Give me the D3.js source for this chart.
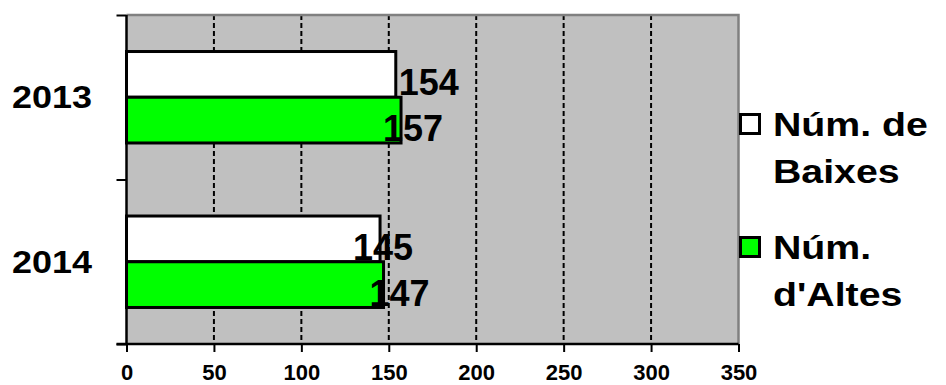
<!DOCTYPE html>
<html>
<head>
<meta charset="utf-8">
<script src="https://cdn.jsdelivr.net/npm/d3@7/dist/d3.min.js"></script>
<style>
  html, body { margin: 0; padding: 0; background: #fff; }
  svg { display: block; font-family: "Liberation Sans", Arial, sans-serif; font-weight: bold; }
</style>
</head>
<body>
<svg id="chart" width="946" height="385"></svg>
<script>
// Registered entries and exits per year
const categories = ["2013", "2014"];
const seriesKeys = ["baixes", "altes"];
const baixes = [154, 145];
const altes = [157, 147];
const legendLines = [["Núm. de", "Baixes"], ["Núm.", "d'Altes"]];
const xTicks = [0, 50, 100, 150, 200, 250, 300, 350];

const colors = { baixes: "#FFFFFF", altes: "#00FF00" };
const values = { baixes, altes };
// small horizontal nudges for the value labels
const labelNudge = { baixes: [3, -27], altes: [-18, -14] };

const svg = d3.select("#chart");
const plot = { left: 126.5, right: 738.5, top: 15, bottom: 344 };

const x = d3.scaleLinear().domain([0, 350]).range([plot.left, plot.right]);
const y0 = d3.scaleBand().domain(categories).range([plot.top, plot.bottom])
  .paddingInner(0.444).paddingOuter(0.222);
const y1 = d3.scaleBand().domain(seriesKeys).range([0, y0.bandwidth()]);
const yEdge = d3.scaleLinear().domain([0, categories.length]).range([plot.top, plot.bottom]);

// plot background
svg.append("rect")
  .attr("x", plot.left).attr("y", plot.top)
  .attr("width", plot.right - plot.left).attr("height", plot.bottom - plot.top)
  .attr("fill", "#C0C0C0");

// dashed gridlines
svg.append("g").selectAll("line")
  .data(xTicks.filter(d => d > 0 && d < 350))
  .join("line")
  .attr("x1", d => x(d)).attr("x2", d => x(d))
  .attr("y1", plot.top).attr("y2", plot.bottom)
  .attr("stroke", "#000").attr("stroke-width", 2)
  .attr("stroke-dasharray", "5,3");

// frame: grey top and right
svg.append("path")
  .attr("d", `M${plot.left},${plot.top}H${plot.right}V${plot.bottom}`)
  .attr("fill", "none").attr("stroke", "#808080").attr("stroke-width", 2.5);

// bars
const groups = svg.append("g").selectAll("g")
  .data(categories)
  .join("g")
  .attr("transform", d => `translate(0,${y0(d)})`);

groups.selectAll("rect")
  .data((c, i) => seriesKeys.map(k => ({ key: k, value: values[k][i], i })))
  .join("rect")
  .attr("x", x(0))
  .attr("y", d => y1(d.key))
  .attr("width", d => x(d.value) - x(0))
  .attr("height", y1.bandwidth())
  .attr("fill", d => colors[d.key])
  .attr("stroke", "#000").attr("stroke-width", 3);

// value labels
groups.selectAll("text")
  .data((c, i) => seriesKeys.map(k => ({ key: k, value: values[k][i], i })))
  .join("text")
  .attr("x", d => x(d.value) + labelNudge[d.key][d.i])
  .attr("y", d => y1(d.key) + y1.bandwidth() / 2 + 21)
  .attr("font-size", 36)
  .attr("fill", "#000")
  .text(d => d.value);

// bottom axis
const xAxis = svg.append("g")
  .attr("transform", `translate(0,${plot.bottom})`)
  .call(d3.axisBottom(x).tickValues(xTicks).tickSize(8).tickPadding(12).tickFormat(d3.format("d")));
xAxis.select(".domain").attr("stroke", "#000").attr("stroke-width", 2.5)
  .attr("d", `M${plot.left - 10},0H${plot.right}`);
xAxis.selectAll(".tick line").attr("stroke", "#000").attr("stroke-width", 2);
xAxis.selectAll(".tick text")
  .attr("font-size", 22).attr("font-family", "Liberation Sans, Arial, sans-serif")
  .attr("font-weight", "bold").attr("fill", "#000")
  .attr("dy", "0.74em");

// left axis with ticks at category boundaries
const yAxis = svg.append("g")
  .attr("transform", `translate(${plot.left},0)`)
  .call(d3.axisLeft(yEdge).tickValues(d3.range(categories.length + 1)).tickSize(10).tickFormat(""));
yAxis.select(".domain").attr("stroke", "#000").attr("stroke-width", 2.5)
  .attr("d", `M0,${plot.top}V${plot.bottom}`);
yAxis.selectAll(".tick line").attr("stroke", "#000").attr("stroke-width", 2);

// category labels
svg.append("g").selectAll("text")
  .data(categories)
  .join("text")
  .attr("x", 92)
  .attr("y", d => y0(d) + y0.bandwidth() / 2 + 11)
  .attr("text-anchor", "end")
  .attr("font-size", 31)
  .attr("fill", "#000")
  .text(d => d)
  .each(function () {
    const w = this.getComputedTextLength();
    d3.select(this).attr("textLength", w * 1.16).attr("lengthAdjust", "spacingAndGlyphs");
  });

// legend
const legend = svg.append("g").selectAll("g")
  .data(seriesKeys)
  .join("g")
  .attr("transform", (d, i) => `translate(740.5,${114.5 + i * 123})`);

legend.append("rect")
  .attr("width", 19).attr("height", 19)
  .attr("fill", d => colors[d])
  .attr("stroke", "#000").attr("stroke-width", 3);

legend.each(function (d, i) {
  const g = d3.select(this);
  legendLines[i].forEach((line, j) => {
    g.append("text")
      .attr("x", 32.5)
      .attr("y", 21.5 + j * 47)
      .attr("font-size", 33)
      .attr("fill", "#000")
      .text(line)
      .each(function () {
        const w = this.getComputedTextLength();
        d3.select(this).attr("textLength", w * 1.19).attr("lengthAdjust", "spacingAndGlyphs");
      });
  });
});
</script>
</body>
</html>
